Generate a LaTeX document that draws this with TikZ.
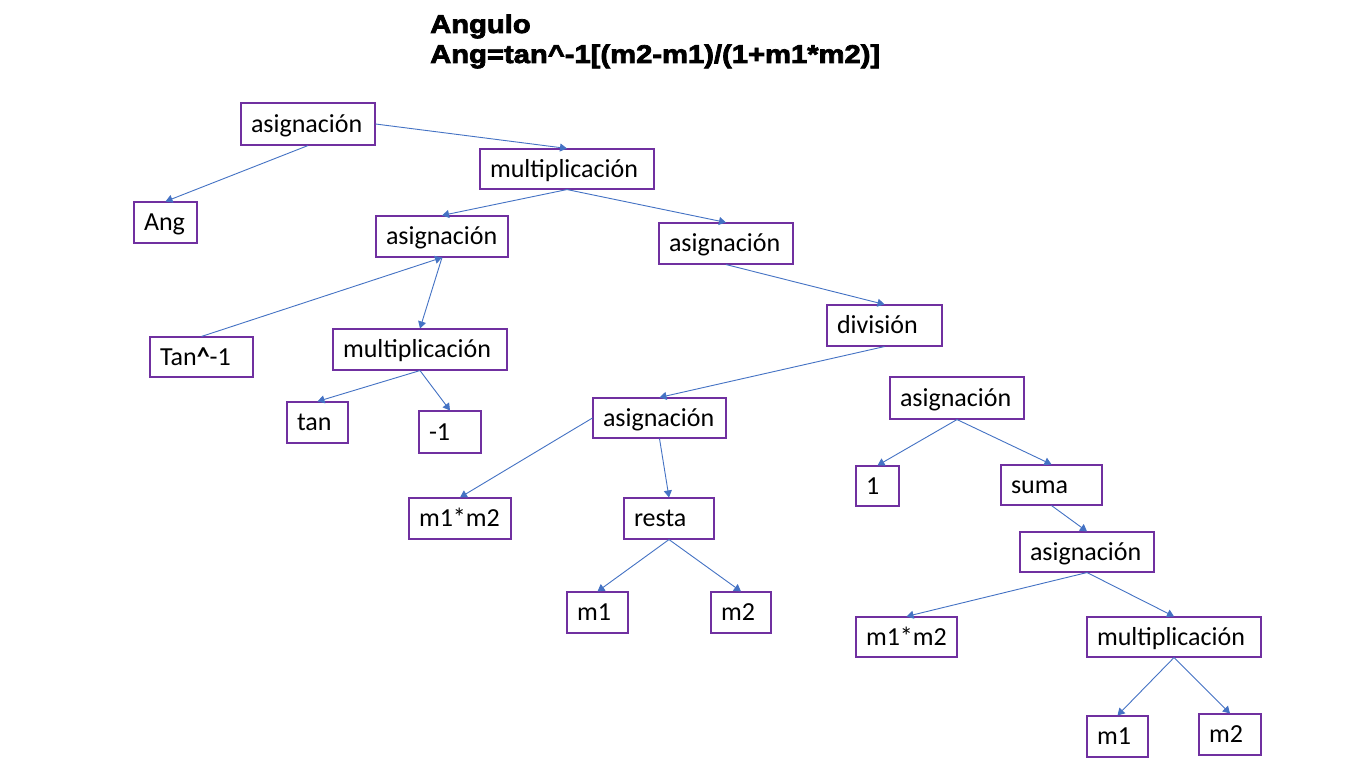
\documentclass[tikz,border=0pt]{standalone}
\usepackage{fontspec}
\setmainfont{Carlito}
\newfontfamily\titlefont{Liberation Sans}[FakeStretch=1.14, BoldFeatures={FakeBold=3}]
\usetikzlibrary{arrows.meta}
\definecolor{boxc}{HTML}{7030A0}
\definecolor{arrc}{HTML}{4472C4}
\begin{document}
\begin{tikzpicture}[x=1pt,y=-1pt,
  tbox/.style={draw=boxc, line width=1.1pt, inner xsep=10pt, inner ysep=0pt,
    minimum height=41pt, align=left, text height=19pt, text depth=3pt,
    font=\fontsize{26}{30}\selectfont, anchor=center},
  conn/.style={draw=arrc, line width=0.9pt, -{Triangle[length=7pt,width=8pt]}},
  ttl/.style={anchor=base west, inner sep=0pt, font=\titlefont\bfseries\fontsize{25.6}{30}\selectfont}]
\useasboundingbox (0,0) rectangle (1366,768);
\fill[white] (0,0) rectangle (1366,768);

\node[ttl] (title1) at (430,33) {Angulo};
\node[ttl] (title2) at (430,63) {Ang=tan\textasciicircum-1[(m2-m1)/(1+m1*m2)]};

\node[tbox, text width=114pt, minimum height=42pt] (asig1) at (308,124) {asignación};
\node[tbox, text width=154pt, minimum height=40pt] (mult1) at (567,169) {multiplicación};
\node[tbox, text width=43pt] (ang) at (165.5,222.5) {Ang};
\node[tbox, text width=112pt] (asig2) at (442,236.5) {asignación};
\node[tbox, text width=114pt] (asig3) at (726,243.5) {asignación};
\node[tbox, text width=83pt, minimum height=40pt] (tanm) at (201.5,357) {Tan\textbf{\textasciicircum}-1};
\node[tbox, text width=154pt] (mult2) at (420,349.5) {multiplicación};
\node[tbox, text width=95pt] (div) at (884.5,325.5) {división};
\node[tbox, text width=41pt] (tan) at (317.5,422.5) {tan};
\node[tbox, text width=42pt, minimum height=42pt] (neg) at (450,432) {-1};
\node[tbox, text width=113pt, minimum height=40pt] (asig4) at (659.5,418) {asignación};
\node[tbox, text width=114pt, minimum height=42pt] (asig5) at (957,398) {asignación};
\node[tbox, text width=23pt, minimum height=40pt] (one) at (877.5,486) {1};
\node[tbox, text width=81pt, minimum height=40pt] (suma) at (1051.5,485) {suma};
\node[tbox, text width=82pt] (mmL) at (460,518.5) {m1*m2};
\node[tbox, text width=70pt] (resta) at (669,518.5) {resta};
\node[tbox, text width=114pt, minimum height=40pt] (asig6) at (1087,552) {asignación};
\node[tbox, text width=41pt] (m1L) at (597.5,612.5) {m1};
\node[tbox, text width=40pt] (m2L) at (741,612.5) {m2};
\node[tbox, text width=81pt, minimum height=40pt] (mmR) at (906.5,637) {m1*m2};
\node[tbox, text width=154pt, minimum height=40pt] (mult3) at (1174,637) {multiplicación};
\node[tbox, text width=41pt] (m1R) at (1117.5,736.5) {m1};
\node[tbox, text width=42pt] (m2R) at (1230,734.5) {m2};

\draw[conn] (asig1.south) -- (ang.north);
\draw[conn] (asig1.east) -- (mult1.north);
\draw[conn] (mult1.south) -- (asig2.north);
\draw[conn] (mult1.south) -- (asig3.north);
\draw[conn] (tanm.north) -- (asig2.south);
\draw[conn] (asig2.south) -- (mult2.north);
\draw[conn] (mult2.south) -- (tan.north);
\draw[conn] (mult2.south) -- (neg.north);
\draw[conn] (asig3.south) -- (div.north);
\draw[conn] (div.south) -- (asig4.north);
\draw[conn] (asig4.west) -- (mmL.north);
\draw[conn] (asig4.south) -- (resta.north);
\draw[conn] (resta.south) -- (m1L.north);
\draw[conn] (resta.south) -- (m2L.north);
\draw[conn] (asig5.south) -- (one.north);
\draw[conn] (asig5.south) -- (suma.north);
\draw[conn] (suma.south) -- (asig6.north);
\draw[conn] (asig6.south) -- (mmR.north);
\draw[conn] (asig6.south) -- (mult3.north);
\draw[conn] (mult3.south) -- (m1R.north);
\draw[conn] (mult3.south) -- (m2R.north);
\end{tikzpicture}
\end{document}
